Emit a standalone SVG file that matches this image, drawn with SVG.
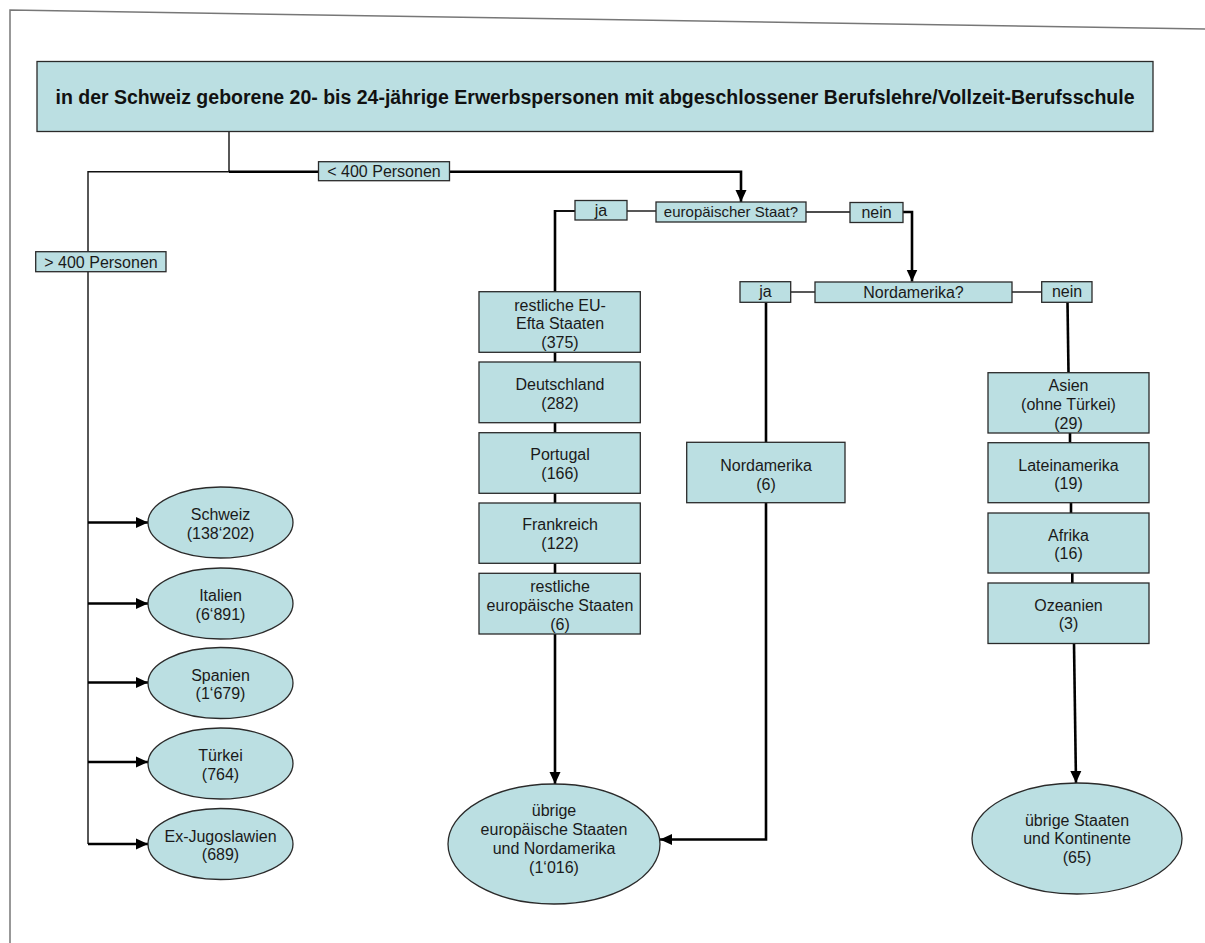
<svg xmlns="http://www.w3.org/2000/svg" width="1205" height="943" viewBox="0 0 1205 943">
<defs>
<style>
.n{fill:#BBDFE2;stroke:#2a2a2a;stroke-width:1.3}
.t{font-family:"Liberation Sans",Arial,sans-serif;font-size:16px;fill:#1a1a1a;text-anchor:middle}
.l{font-family:"Liberation Sans",Arial,sans-serif;font-size:16px;fill:#1a1a1a;text-anchor:middle}
.s{font-family:"Liberation Sans",Arial,sans-serif;font-size:15px;fill:#1a1a1a;text-anchor:middle}
.h{font-family:"Liberation Sans",Arial,sans-serif;font-size:19.5px;font-weight:bold;fill:#111;text-anchor:middle}
.thin{fill:none;stroke:#111;stroke-width:1.4}
.thick{fill:none;stroke:#000;stroke-width:2.6}
.mid{fill:none;stroke:#111;stroke-width:2}
</style>
<marker id="ah" markerUnits="userSpaceOnUse" markerWidth="13" markerHeight="13" viewBox="0 0 13 13" refX="12" refY="6.5" orient="auto">
<path d="M0,1 L12,6.5 L0,12 Z" fill="#000"/>
</marker>
</defs>
<rect width="1205" height="943" fill="#fff"/>
<g id="frame">
<path d="M10,943 V10 L1205,29" fill="none" stroke="#777" stroke-width="1.5"/>
</g>
<g id="connectors">
<path class="thin" d="M229,131.5 V171.7 H88 V844"/>
<path class="thick" d="M229,171.7 H741 V202" marker-end="url(#ah)"/>
<path class="thick" d="M88,522.5 H148" marker-end="url(#ah)"/>
<path class="thick" d="M88,603.5 H148" marker-end="url(#ah)"/>
<path class="thick" d="M88,682.5 H148" marker-end="url(#ah)"/>
<path class="thick" d="M88,762 H148" marker-end="url(#ah)"/>
<path class="thick" d="M88,844 H148" marker-end="url(#ah)"/>
<path class="mid" d="M575,211 H555"/>
<path class="thick" d="M555,210 V292"/>
<path class="thin" d="M627,211 H656"/>
<path class="thin" d="M806,212 H850"/>
<path class="thick" d="M903,212 H912 V281.5" marker-end="url(#ah)"/>
<path class="thick" d="M555,352 V362 M555,422.7 V432.7 M555,493.3 V503 M555,563.3 V573.3"/>
<path class="thick" d="M555,634 V784" marker-end="url(#ah)"/>
<path class="thin" d="M790.7,292 H815"/>
<path class="thin" d="M1012,292 H1041.7"/>
<path class="thick" d="M766,302.3 V442.3"/>
<path class="thick" d="M766,502.7 V839.5 H660" marker-end="url(#ah)"/>
<path class="thick" d="M1067.5,302.3 L1068.5,372.7"/>
<path class="thick" d="M1070,433 V442.7 M1071,502.7 V513 M1072.3,573 V583"/>
<path class="thick" d="M1074,643.5 L1076,783" marker-end="url(#ah)"/>
</g>
<g id="title">
<rect class="n" x="37" y="61.5" width="1116" height="70"/>
<text class="h" x="595" y="104">in der Schweiz geborene 20- bis 24-jährige Erwerbspersonen mit abgeschlossener Berufslehre/Vollzeit-Berufsschule</text>
</g>
<g id="label-lt400">
<rect class="n" x="318.5" y="161.7" width="131" height="19"/>
<text class="l" x="384" y="177">&lt; 400 Personen</text>
</g>
<g id="label-gt400">
<rect class="n" x="35.7" y="251.7" width="130.3" height="20"/>
<text class="l" x="101" y="267.5">&gt; 400 Personen</text>
</g>
<g id="label-ja1">
<rect class="n" x="575" y="200.5" width="52" height="19.5"/>
<text class="l" x="601" y="215.5">ja</text>
</g>
<g id="q-europa">
<rect class="n" x="656" y="202" width="150" height="20"/>
<text class="s" x="731" y="217">europäischer Staat?</text>
</g>
<g id="label-nein1">
<rect class="n" x="850" y="202.5" width="53" height="20"/>
<text class="l" x="876.5" y="217.5">nein</text>
</g>
<g id="label-ja2">
<rect class="n" x="740" y="281.7" width="50.7" height="20.6"/>
<text class="l" x="765.5" y="297">ja</text>
</g>
<g id="q-nordamerika">
<rect class="n" x="815" y="282" width="197" height="20.5"/>
<text class="l" x="913.5" y="297.5">Nordamerika?</text>
</g>
<g id="label-nein2">
<rect class="n" x="1041.7" y="281.7" width="50.3" height="20.6"/>
<text class="l" x="1067" y="297">nein</text>
</g>
<g id="e-schweiz">
<ellipse class="n" cx="220.5" cy="522.5" rx="72.5" ry="35.5"/>
<text class="t" x="220.5" y="520">Schweiz</text>
<text class="t" x="220.5" y="538.5">(138‘202)</text>
</g>
<g id="e-italien">
<ellipse class="n" cx="220.5" cy="603.5" rx="72.5" ry="35.5"/>
<text class="t" x="220.5" y="601">Italien</text>
<text class="t" x="220.5" y="619.5">(6‘891)</text>
</g>
<g id="e-spanien">
<ellipse class="n" cx="220.5" cy="683" rx="72.5" ry="35.5"/>
<text class="t" x="220.5" y="680.5">Spanien</text>
<text class="t" x="220.5" y="699">(1‘679)</text>
</g>
<g id="e-tuerkei">
<ellipse class="n" cx="220.5" cy="763.5" rx="72.5" ry="35.5"/>
<text class="t" x="220.5" y="761">Türkei</text>
<text class="t" x="220.5" y="779.5">(764)</text>
</g>
<g id="e-exjugoslawien">
<ellipse class="n" cx="220.5" cy="844" rx="72.5" ry="35.5"/>
<text class="t" x="220.5" y="841.5">Ex-Jugoslawien</text>
<text class="t" x="220.5" y="860">(689)</text>
</g>
<g id="b-eu-efta">
<rect class="n" x="479" y="291.7" width="161.3" height="60.6"/>
<text class="t" x="560" y="310.5">restliche EU-</text>
<text class="t" x="560" y="329">Efta Staaten</text>
<text class="t" x="560" y="348">(375)</text>
</g>
<g id="b-deutschland">
<rect class="n" x="479" y="362" width="161.3" height="60.7"/>
<text class="t" x="560" y="389.5">Deutschland</text>
<text class="t" x="560" y="408.5">(282)</text>
</g>
<g id="b-portugal">
<rect class="n" x="479" y="432.7" width="161.3" height="60.6"/>
<text class="t" x="560" y="460">Portugal</text>
<text class="t" x="560" y="479">(166)</text>
</g>
<g id="b-frankreich">
<rect class="n" x="479" y="503" width="161.3" height="60.3"/>
<text class="t" x="560" y="530">Frankreich</text>
<text class="t" x="560" y="549">(122)</text>
</g>
<g id="b-rest-europa">
<rect class="n" x="479" y="573.3" width="161.3" height="60.7"/>
<text class="t" x="560" y="591.5">restliche</text>
<text class="t" x="560" y="610.5">europäische Staaten</text>
<text class="t" x="560" y="629.5">(6)</text>
</g>
<g id="b-nordamerika">
<rect class="n" x="686.7" y="442.3" width="158.3" height="60.4"/>
<text class="t" x="766" y="470.5">Nordamerika</text>
<text class="t" x="766" y="489.5">(6)</text>
</g>
<g id="b-asien">
<rect class="n" x="988" y="372.7" width="161" height="60.3"/>
<text class="t" x="1068.5" y="390.5">Asien</text>
<text class="t" x="1068.5" y="410">(ohne Türkei)</text>
<text class="t" x="1068.5" y="429">(29)</text>
</g>
<g id="b-lateinamerika">
<rect class="n" x="988" y="442.7" width="161" height="60"/>
<text class="t" x="1068.5" y="470.5">Lateinamerika</text>
<text class="t" x="1068.5" y="489">(19)</text>
</g>
<g id="b-afrika">
<rect class="n" x="988" y="513" width="161" height="60"/>
<text class="t" x="1068.5" y="540.5">Afrika</text>
<text class="t" x="1068.5" y="559">(16)</text>
</g>
<g id="b-ozeanien">
<rect class="n" x="988" y="583" width="161" height="60.5"/>
<text class="t" x="1068.5" y="610.5">Ozeanien</text>
<text class="t" x="1068.5" y="629">(3)</text>
</g>
<g id="e-uebrige-europa">
<ellipse class="n" cx="554" cy="844" rx="106" ry="60"/>
<text class="t" x="554" y="815.5">übrige</text>
<text class="t" x="554" y="834.5">europäische Staaten</text>
<text class="t" x="554" y="853.5">und Nordamerika</text>
<text class="t" x="554" y="872.5">(1‘016)</text>
</g>
<g id="e-uebrige-welt">
<ellipse class="n" cx="1077" cy="838.5" rx="105" ry="55.5"/>
<text class="t" x="1077" y="825.5">übrige Staaten</text>
<text class="t" x="1077" y="844">und Kontinente</text>
<text class="t" x="1077" y="863">(65)</text>
</g>
</svg>
